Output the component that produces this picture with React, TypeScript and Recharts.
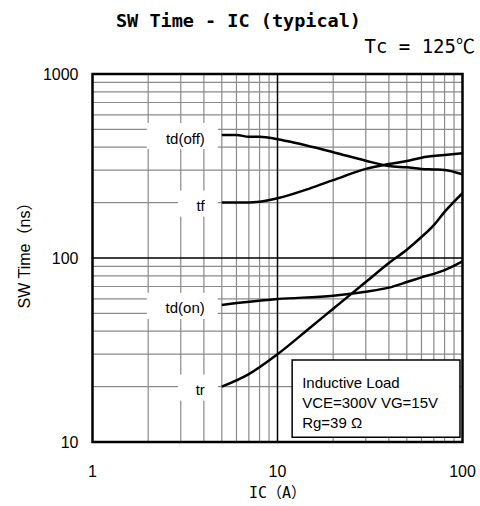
import React from 'react';
import { LineChart, Line, XAxis, YAxis, ReferenceLine, ReferenceArea } from 'recharts';

// axes (log-log)
const xTicks = [1, 10, 100];
const yTicks = [10, 100, 1000];
const xMinor = [2, 3, 4, 5, 6, 7, 8, 9, 20, 30, 40, 50, 60, 70, 80, 90];
const yMinor = [20, 30, 40, 50, 60, 70, 80, 90, 200, 300, 400, 500, 600, 700, 800, 900];

// switching times (ns) vs IC (A)
const tdOff = [
  { ic: 5, t: 466 }, { ic: 6, t: 466 }, { ic: 7, t: 456 }, { ic: 8, t: 456 },
  { ic: 10, t: 442 }, { ic: 11.2, t: 432 }, { ic: 20, t: 376 }, { ic: 30, t: 338 },
  { ic: 40, t: 316 }, { ic: 50, t: 311 }, { ic: 60, t: 305 }, { ic: 70, t: 303 },
  { ic: 80, t: 301 }, { ic: 100, t: 285 },
];
const tf = [
  { ic: 5, t: 200 }, { ic: 7, t: 200 }, { ic: 8, t: 202 }, { ic: 10, t: 211 },
  { ic: 15, t: 239 }, { ic: 20, t: 265 }, { ic: 30, t: 305 }, { ic: 40, t: 324 },
  { ic: 50, t: 337 }, { ic: 60, t: 351 }, { ic: 80, t: 363 }, { ic: 100, t: 371 },
];
const tdOn = [
  { ic: 5, t: 55.6 }, { ic: 10, t: 59.8 }, { ic: 20, t: 62.4 }, { ic: 30, t: 65.6 },
  { ic: 40, t: 69 }, { ic: 50, t: 74 }, { ic: 60, t: 78.5 }, { ic: 70, t: 82 },
  { ic: 80, t: 86 }, { ic: 100, t: 96 },
];
const tr = [
  { ic: 5, t: 20 }, { ic: 7, t: 23.4 }, { ic: 10, t: 30 }, { ic: 15, t: 41.8 },
  { ic: 20, t: 53 }, { ic: 30, t: 74 }, { ic: 40, t: 94 }, { ic: 50, t: 111 },
  { ic: 60, t: 130 }, { ic: 70, t: 151 }, { ic: 80, t: 178 }, { ic: 100, t: 225 },
];

const noteLines = ['Inductive Load', 'VCE=300V VG=15V', 'Rg=39 Ω'];

const sans = "'Liberation Sans', Arial, 'Noto Sans CJK JP', sans-serif";
const mono = "'DejaVu Sans Mono', 'Noto Sans CJK JP', monospace";

const curveLabel = (text: string, boxW: number) => (props: any) => {
  if (props.index !== 0) return null;
  const { x, y } = props;
  return (
    <g>
      <rect x={x - boxW - 4} y={y - 12} width={boxW} height={26} fill="#fff" />
      <text x={x - 17} y={y + 3} textAnchor="end" dominantBaseline="central"
        fontSize={15} fontFamily={sans} fill="#000">{text}</text>
    </g>
  );
};

const NoteText = (props: any) => {
  const vb = props.viewBox || {};
  return (
    <g>
      {noteLines.map((s, i) => (
        <text key={s} x={vb.x + 10} y={vb.y + 22 + i * 20} dominantBaseline="central"
          fontSize={15} fontFamily={sans} fill="#000">{s}</text>
      ))}
    </g>
  );
};

export default function App() {
  return (
    <div style={{ position: 'fixed', left: 0, top: 0, width: 480, height: 506, background: '#fff' }}>
      <LineChart width={480} height={506} margin={{ top: 74, right: 17.5, left: 0, bottom: 0 }}>
        <XAxis dataKey="ic" type="number" scale="log" domain={[1, 100]} ticks={xTicks}
          allowDataOverflow tickLine={false} axisLine={false} tickSize={0} tickMargin={24}
          height={64} tick={{ fontSize: 16, fill: '#000', fontFamily: sans }} />
        <YAxis type="number" scale="log" domain={[10, 1000]} ticks={yTicks}
          allowDataOverflow tickLine={false} axisLine={false} tickSize={0} tickMargin={14}
          width={92.5} tick={{ fontSize: 16, fill: '#000', fontFamily: sans }} />
        {xMinor.map((v) => (
          <ReferenceLine key={'x' + v} x={v} stroke="#8a8a8a" strokeWidth={1.2} zIndex={-300} />
        ))}
        {yMinor.map((v) => (
          <ReferenceLine key={'y' + v} y={v} stroke="#8a8a8a" strokeWidth={1.2} zIndex={-300} />
        ))}
        <ReferenceLine x={10} stroke="#000" strokeWidth={1.5} zIndex={-250} />
        <ReferenceLine y={100} stroke="#000" strokeWidth={1.5} zIndex={-250} />
        <ReferenceArea x1={12} x2={96.9} y1={10.6} y2={27.9} fill="#fff" fillOpacity={1}
          stroke="#000" strokeWidth={1.5} label={<NoteText />} zIndex={-200} />
        <ReferenceArea x1={1} x2={100} y1={10} y2={1000} fill="none" stroke="#000" strokeWidth={2.5} />
        <Line data={tdOff} dataKey="t" stroke="#000" strokeWidth={2.5} dot={false} type="monotone"
          isAnimationActive={false} label={curveLabel('td(off)', 71)} />
        <Line data={tf} dataKey="t" stroke="#000" strokeWidth={2.5} dot={false} type="monotone"
          isAnimationActive={false} label={curveLabel('tf', 40)} />
        <Line data={tdOn} dataKey="t" stroke="#000" strokeWidth={2.5} dot={false} type="monotone"
          isAnimationActive={false} label={curveLabel('td(on)', 71)} />
        <Line data={tr} dataKey="t" stroke="#000" strokeWidth={2.5} dot={false} type="monotone"
          isAnimationActive={false} label={curveLabel('tr', 40)} />
      </LineChart>
      <svg width={480} height={506} style={{ position: 'absolute', left: 0, top: 0, pointerEvents: 'none' }}>
        <text x={238.5} y={26.5} textAnchor="middle" fontSize={18.5} fontWeight="bold" fontFamily={mono}>
          SW Time - IC (typical)
        </text>
        <text x={475} y={52.5} textAnchor="end" fontSize={19} fontFamily={mono}>Tc = 125℃</text>
        <text x={277.5} y={498} textAnchor="middle" fontSize={15} fontFamily={mono}>IC（A）</text>
        <text x={24} y={251.5} textAnchor="middle" dominantBaseline="central" fontSize={16}
          fontFamily={sans} transform="rotate(-90 24 251.5)">SW Time（ns）</text>
      </svg>
    </div>
  );
}
